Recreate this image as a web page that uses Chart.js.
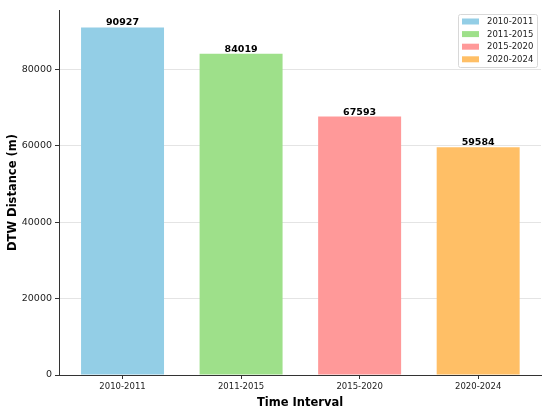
<!DOCTYPE html>
<html><head><meta charset="utf-8">
<script src="https://cdn.jsdelivr.net/npm/chart.js@4"></script>
<style>html,body{margin:0;padding:0;background:#fff}</style>
</head><body>
<canvas id="c" width="550" height="410"></canvas>
<script>
const categories = ['2010-2011', '2011-2015', '2015-2020', '2020-2024'];
const dtwValues = [90927, 84019, 67593, 59584];
const barColors = ['#93CEE6', '#9EE08A', '#FF9999', '#FFBF66'];
const yTickValues = [0, 20000, 40000, 60000, 80000];
const yAxisMax = 95473;
const xTitle = 'Time Interval';
const yTitle = 'DTW Distance (m)';

const FONT = "'DejaVu Sans', sans-serif";

const valueLabels = {
  id: 'valueLabels',
  afterDatasetsDraw(chart) {
    const ctx = chart.ctx;
    const meta = chart.getDatasetMeta(0);
    ctx.save();
    ctx.font = 'bold 9.5px ' + FONT;
    ctx.fillStyle = '#000';
    ctx.textAlign = 'center';
    ctx.textBaseline = 'alphabetic';
    meta.data.forEach((bar, i) => {
      ctx.fillText(String(dtwValues[i]), bar.x, bar.y - 2);
    });
    ctx.restore();
  }
};

const innerLegend = {
  id: 'innerLegend',
  afterDraw(chart) {
    const ctx = chart.ctx;
    const x0 = 458, y0 = 14, w = 79, h = 53, r = 2;
    ctx.save();
    ctx.fillStyle = 'rgba(255,255,255,0.85)';
    ctx.strokeStyle = '#d8d8d8';
    ctx.lineWidth = 1;
    ctx.beginPath();
    ctx.roundRect(x0 + 0.5, y0 + 0.5, w, h, r);
    ctx.fill();
    ctx.stroke();
    ctx.font = '8.5px ' + FONT;
    ctx.textBaseline = 'middle';
    ctx.textAlign = 'left';
    categories.forEach((c, i) => {
      const cy = y0 + 7.5 + i * 12.6;
      ctx.fillStyle = barColors[i];
      ctx.fillRect(x0 + 4, cy - 3, 17, 6);
      ctx.fillStyle = '#222';
      ctx.fillText(c, x0 + 29, cy + 0.5);
    });
    ctx.restore();
  }
};

new Chart(document.getElementById('c'), {
  type: 'bar',
  data: {
    datasets: [{
      label: yTitle,
      data: dtwValues.map((v, i) => ({ x: i, y: v })),
      backgroundColor: barColors,
      borderWidth: 0,
      barPercentage: 0.7,
      categoryPercentage: 1.0
    }]
  },
  options: {
    responsive: false,
    animation: false,
    devicePixelRatio: 1,
    layout: { padding: { top: 10, right: 9, left: 0, bottom: 0 } },
    plugins: { legend: { display: false }, tooltip: { enabled: false } },
    scales: {
      x: {
        type: 'linear',
        min: -0.536,
        max: 3.53,
        offset: false,
        grid: { display: true, offset: false, drawOnChartArea: false, drawTicks: true, tickLength: 4, tickColor: '#333' },
        border: { display: true, color: '#333', width: 1 },
        afterBuildTicks(scale) { scale.ticks = categories.map((c, i) => ({ value: i })); },
        ticks: { color: '#222', font: { family: FONT, size: 8.5 }, padding: 3, maxRotation: 0, autoSkip: false,
          callback: v => categories[v] },
        title: { display: true, text: xTitle, color: '#000', font: { family: FONT, size: 11.5, weight: 'bold' }, padding: { top: 1, bottom: 0 } },
        afterFit(scale) { scale.height = 35; }
      },
      y: {
        min: 0,
        max: yAxisMax,
        grid: { color: '#e4e4e4', lineWidth: 1, borderDash: [1, 2], tickLength: 4, tickColor: '#333', tickBorderDash: [] },
        border: { display: true, color: '#333', width: 1 },
        ticks: { color: '#222', font: { family: FONT, size: 9.5 }, padding: 3,
          callback: v => String(v) },
        afterBuildTicks(scale) { scale.ticks = yTickValues.map(v => ({ value: v })); },
        title: { display: true, text: yTitle, color: '#000', font: { family: FONT, size: 11.5, weight: 'bold' }, padding: { top: 6, bottom: 4 } },
        afterFit(scale) { scale.width = 59; }
      }
    }
  },
  plugins: [valueLabels, innerLegend]
});
</script>
</body></html>
